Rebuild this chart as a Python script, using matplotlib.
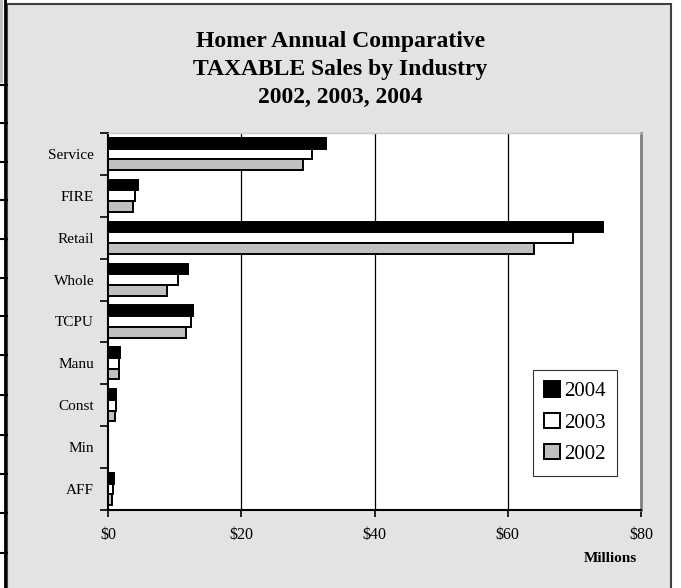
import matplotlib
matplotlib.use("Agg")
import matplotlib.pyplot as plt
from matplotlib.patches import Rectangle
from matplotlib.lines import Line2D
import numpy as np

plt.rcParams['font.family'] = ['Liberation Serif', 'DejaVu Serif']

# categories listed bottom to top
industries = ["AFF", "Min", "Const", "Manu", "TCPU", "Whole", "Retail", "FIRE", "Service"]
sales_2004 = [0.9, 0.0, 1.2, 1.8, 12.8, 12.05, 74.3, 4.5, 32.7]
sales_2003 = [0.7, 0.0, 1.2, 1.7, 12.4, 10.55, 69.8, 4.05, 30.6]
sales_2002 = [0.55, 0.0, 1.05, 1.7, 11.7, 8.8, 64.0, 3.8, 29.3]
x_ticks = [0, 20, 40, 60, 80]
x_labels = ["$0", "$20", "$40", "$60", "$80"]

W, H = 681, 588
fig = plt.figure(figsize=(W / 100, H / 100), dpi=100)
fig.patch.set_facecolor("white")

# chart area background and border
fig.patches.append(Rectangle((7 / W, -0.01), (671 - 7) / W, 1 - 4 / H + 0.01,
                             transform=fig.transFigure, facecolor="#e3e3e3",
                             edgecolor="#404040", linewidth=1.5, zorder=-5))
# spreadsheet row marks on the far left
fig.patches.append(Rectangle((0, 1 - 83 / H), 3 / W, 83 / H, transform=fig.transFigure,
                             facecolor="#c0c0c0", edgecolor="none", zorder=-4))
fig.lines.append(Line2D([4.5 / W, 4.5 / W], [0, 1], transform=fig.transFigure,
                        color="black", linewidth=2, zorder=-3))
for yy in [85, 123, 162, 200, 239, 278, 316, 355, 395, 435, 474, 513, 553]:
    fig.lines.append(Line2D([0, 7 / W], [1 - yy / H, 1 - yy / H], transform=fig.transFigure,
                            color="black", linewidth=1.5, zorder=-3))

ax = fig.add_axes([108 / W, 1 - 510 / H, (641 - 108) / W, (510 - 133) / H])
ax.set_facecolor("white")

y = np.arange(len(industries))
h = 0.255
ax.barh(y + h, sales_2004, height=h, color="black", edgecolor="black", linewidth=1.4, label="2004", zorder=3)
ax.barh(y, sales_2003, height=h, color="white", edgecolor="black", linewidth=1.4, label="2003", zorder=3)
ax.barh(y - h, sales_2002, height=h, color="#c0c0c0", edgecolor="black", linewidth=1.4, label="2002", zorder=3)

ax.set_xlim(0, 80)
ax.set_ylim(-0.5, len(industries) - 0.5)
ax.set_xticks(x_ticks)
ax.set_xticklabels(x_labels, fontsize=11.5)
ax.set_yticks(np.arange(len(industries) + 1) - 0.5)
ax.set_yticklabels([])
ax.set_yticks(y, minor=True)
ax.set_yticklabels(industries, minor=True, fontsize=11)
ax.tick_params(axis="y", which="major", direction="out", length=6, width=1.2)
ax.tick_params(axis="y", which="minor", length=0, pad=10)
ax.tick_params(axis="x", direction="out", length=5, width=1.2, pad=7)

for xv in x_ticks[1:-1]:
    ax.axvline(xv, color="black", linewidth=0.9, zorder=1)

ax.spines["left"].set_linewidth(1.5)
ax.spines["bottom"].set_linewidth(1.5)
ax.spines["top"].set_color("#c8c8c8")
ax.spines["top"].set_linewidth(1)
ax.spines["right"].set_color("#808080")
ax.spines["right"].set_linewidth(2)

fig.text(0.5, 1 - 41 / H, "Homer Annual Comparative", ha="center", va="center",
         fontsize=17, fontweight="bold")
fig.text(0.5, 1 - 69 / H, "TAXABLE Sales by Industry", ha="center", va="center",
         fontsize=17, fontweight="bold")
fig.text(0.5, 1 - 97 / H, "2002, 2003, 2004", ha="center", va="center",
         fontsize=17, fontweight="bold")
fig.text(610 / W, 1 - 559 / H, "Millions", ha="center", va="center",
         fontsize=11, fontweight="bold")

leg = ax.legend(loc="upper left", bbox_to_anchor=((533 - 108) / 533, (510 - 370) / 377),
                fontsize=15, frameon=True, fancybox=False, handlelength=0.75,
                handleheight=0.75, handletextpad=0.2, labelspacing=0.55,
                borderpad=0.55, borderaxespad=0)
leg.get_frame().set_edgecolor("black")
leg.get_frame().set_linewidth(0.8)

fig.savefig("out.png", dpi=100)
